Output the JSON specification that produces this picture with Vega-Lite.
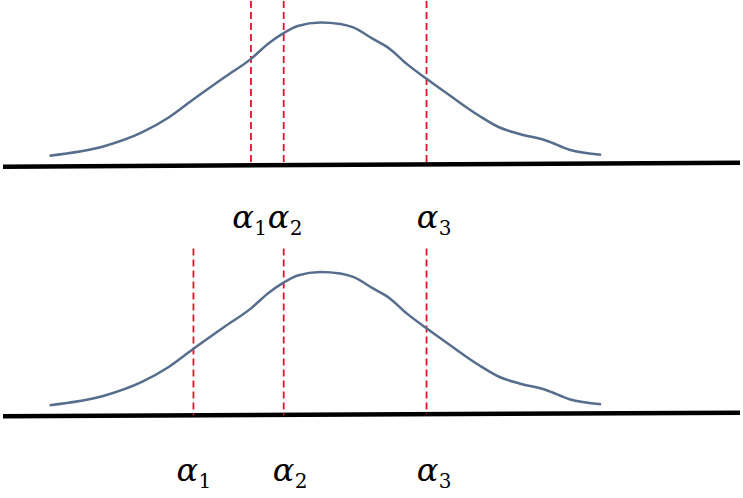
{
  "$schema": "https://vega.github.io/schema/vega-lite/v6.json",
  "width": 743,
  "height": 498,
  "autosize": {"type": "fit", "contains": "padding"},
  "padding": 0,
  "background": "white",
  "config": {"view": {"stroke": null}},
  "datasets": {
    "curve": [
      {"panel": "top", "x": 47, "y": 155}, {"panel": "top", "x": 102, "y": 145.5}, {"panel": "top", "x": 140, "y": 131.7},
      {"panel": "top", "x": 167, "y": 116.7}, {"panel": "top", "x": 190, "y": 100}, {"panel": "top", "x": 224, "y": 76},
      {"panel": "top", "x": 250, "y": 58}, {"panel": "top", "x": 267, "y": 43},
      {"panel": "top", "x": 282, "y": 32.7}, {"panel": "top", "x": 297, "y": 25}, {"panel": "top", "x": 320, "y": 21.5},
      {"panel": "top", "x": 340, "y": 23}, {"panel": "top", "x": 353, "y": 26.5}, {"panel": "top", "x": 373, "y": 38},
      {"panel": "top", "x": 390, "y": 48}, {"panel": "top", "x": 407, "y": 63}, {"panel": "top", "x": 427, "y": 78},
      {"panel": "top", "x": 453, "y": 96.5}, {"panel": "top", "x": 480, "y": 115}, {"panel": "top", "x": 500, "y": 126.5},
      {"panel": "top", "x": 520, "y": 133}, {"panel": "top", "x": 548, "y": 140}, {"panel": "top", "x": 571, "y": 149},
      {"panel": "top", "x": 603, "y": 154},
      {"panel": "bottom", "x": 47, "y": 405}, {"panel": "bottom", "x": 102, "y": 395.5}, {"panel": "bottom", "x": 140, "y": 381.7},
      {"panel": "bottom", "x": 167, "y": 366.7}, {"panel": "bottom", "x": 190, "y": 350}, {"panel": "bottom", "x": 224, "y": 326},
      {"panel": "bottom", "x": 250, "y": 308}, {"panel": "bottom", "x": 267, "y": 293},
      {"panel": "bottom", "x": 282, "y": 282.7}, {"panel": "bottom", "x": 297, "y": 275}, {"panel": "bottom", "x": 320, "y": 271.5},
      {"panel": "bottom", "x": 340, "y": 273}, {"panel": "bottom", "x": 353, "y": 276.5}, {"panel": "bottom", "x": 373, "y": 288},
      {"panel": "bottom", "x": 390, "y": 298}, {"panel": "bottom", "x": 407, "y": 313}, {"panel": "bottom", "x": 427, "y": 328},
      {"panel": "bottom", "x": 453, "y": 346.5}, {"panel": "bottom", "x": 480, "y": 365}, {"panel": "bottom", "x": 500, "y": 376.5},
      {"panel": "bottom", "x": 520, "y": 383}, {"panel": "bottom", "x": 548, "y": 390}, {"panel": "bottom", "x": 571, "y": 399},
      {"panel": "bottom", "x": 603, "y": 404}
    ],
    "baselines": [
      {"panel": "top", "x": 0, "y": 166, "x2": 743, "y2": 162},
      {"panel": "bottom", "x": 0, "y": 416, "x2": 743, "y2": 412.5}
    ],
    "thresholds": [
      {"panel": "top", "name": "α1", "x": 250, "y": 0, "y2": 165},
      {"panel": "top", "name": "α2", "x": 283, "y": 0, "y2": 165},
      {"panel": "top", "name": "α3", "x": 427, "y": 0, "y2": 163},
      {"panel": "bottom", "name": "α1", "x": 192, "y": 248, "y2": 415},
      {"panel": "bottom", "name": "α2", "x": 283, "y": 248, "y2": 415},
      {"panel": "bottom", "name": "α3", "x": 427, "y": 248, "y2": 414}
    ],
    "labels": [
      {"panel": "top", "sym": "α", "sub": "1", "x": 231, "y": 227},
      {"panel": "top", "sym": "α", "sub": "2", "x": 267, "y": 227},
      {"panel": "top", "sym": "α", "sub": "3", "x": 417, "y": 227},
      {"panel": "bottom", "sym": "α", "sub": "1", "x": 175, "y": 481},
      {"panel": "bottom", "sym": "α", "sub": "2", "x": 272, "y": 481},
      {"panel": "bottom", "sym": "α", "sub": "3", "x": 417, "y": 481}
    ]
  },
  "layer": [
    {
      "data": {"name": "baselines"},
      "mark": {"type": "rule", "color": "black", "strokeWidth": 4.5},
      "encoding": {
        "x": {"field": "x", "type": "quantitative", "scale": {"domain": [0, 743], "nice": false, "zero": false}, "axis": null},
        "y": {"field": "y", "type": "quantitative", "scale": {"domain": [0, 498], "nice": false, "zero": false, "reverse": true}, "axis": null},
        "x2": {"field": "x2"},
        "y2": {"field": "y2"}
      }
    },
    {
      "data": {"name": "thresholds"},
      "mark": {"type": "rule", "color": "#e3122f", "strokeWidth": 1.8, "strokeDash": [7, 4]},
      "encoding": {
        "x": {"field": "x", "type": "quantitative"},
        "y": {"field": "y", "type": "quantitative"},
        "y2": {"field": "y2"}
      }
    },
    {
      "data": {"name": "curve"},
      "mark": {"type": "line", "color": "#566d8c", "strokeWidth": 2.5, "interpolate": "monotone"},
      "encoding": {
        "x": {"field": "x", "type": "quantitative"},
        "y": {"field": "y", "type": "quantitative"},
        "detail": {"field": "panel"}
      }
    },
    {
      "data": {"name": "labels"},
      "mark": {"type": "text", "font": "DejaVu Serif", "fontStyle": "italic", "fontSize": 32, "align": "left", "baseline": "alphabetic", "color": "black"},
      "encoding": {
        "x": {"field": "x", "type": "quantitative"},
        "y": {"field": "y", "type": "quantitative"},
        "text": {"field": "sym"}
      }
    },
    {
      "data": {"name": "labels"},
      "mark": {"type": "text", "font": "DejaVu Serif", "fontSize": 20, "align": "left", "baseline": "alphabetic", "dx": 22, "dy": 7, "color": "black"},
      "encoding": {
        "x": {"field": "x", "type": "quantitative"},
        "y": {"field": "y", "type": "quantitative"},
        "text": {"field": "sub"}
      }
    }
  ]
}
